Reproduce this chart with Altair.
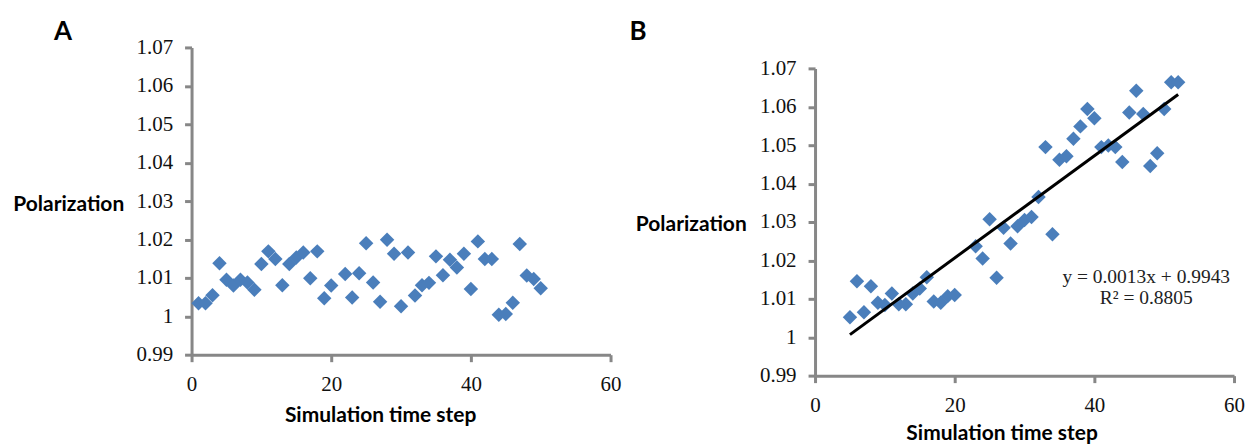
import altair as alt
import pandas as pd

# ---------------- data ----------------
a_step = [1, 2, 3, 4, 5, 6, 7, 8, 9, 10, 11, 12, 13, 14, 15, 16, 17, 18, 19, 20,
          22, 23, 24, 25, 26, 27, 28, 29, 30, 31, 32, 33, 34, 35, 36, 37, 38, 39,
          40, 41, 42, 43, 44, 45, 46, 47, 48, 49, 50]
a_pol = [1.0034, 1.0034, 1.0055, 1.0138, 1.0095, 1.0080, 1.0095, 1.0088, 1.0069, 1.0136,
         1.0169, 1.0149, 1.0081, 1.0136, 1.0153, 1.0166, 1.0099, 1.0169, 1.0047, 1.0080,
         1.0110, 1.0049, 1.0112, 1.0190, 1.0088, 1.0038, 1.0199, 1.0163, 1.0026, 1.0166,
         1.0054, 1.0081, 1.0087, 1.0156, 1.0107, 1.0147, 1.0127, 1.0163, 1.0071, 1.0195,
         1.0149, 1.0149, 1.0004, 1.0006, 1.0035, 1.0188, 1.0106, 1.0097, 1.0073]

b_step = [5, 6, 7, 8, 9, 10, 11, 12, 13, 14, 15, 16, 17, 18, 19, 20,
          23, 24, 25, 26, 27, 28, 29, 30, 31, 32, 33, 34, 35, 36, 37, 38, 39, 40,
          41, 42, 43, 44, 45, 46, 47, 48, 49, 50, 51, 52]
b_pol = [1.0052, 1.0146, 1.0065, 1.0133, 1.0090, 1.0084, 1.0114, 1.0086, 1.0086, 1.0114,
         1.0127, 1.0156, 1.0093, 1.0090, 1.0107, 1.0110,
         1.0237, 1.0205, 1.0307, 1.0155, 1.0285, 1.0244, 1.0289, 1.0305, 1.0313, 1.0365,
         1.0495, 1.0268, 1.0462, 1.0471, 1.0517, 1.0549, 1.0594, 1.0570,
         1.0495, 1.0499, 1.0495, 1.0456, 1.0585, 1.0642, 1.0581, 1.0446, 1.0479, 1.0594,
         1.0664, 1.0664]

x_ticks = [0, 20, 40, 60]
y_ticks = [0.99, 1.00, 1.01, 1.02, 1.03, 1.04, 1.05, 1.06, 1.07]
equation_text = "y = 0.0013x + 0.9943"
r2_text = "R² = 0.8805"
panel_labels = ["A", "B"]
x_title = "Simulation time step"
y_title = "Polarization"

df_a = pd.DataFrame({"step": a_step, "pol": a_pol})
df_b = pd.DataFrame({"step": b_step, "pol": b_pol})

# ---------------- styling ----------------
W, H = 420, 308
B_SHIFT = 21          # panel B's plot sits lower than panel A's
AXIS_GRAY = "#878787"
BLUE = "#4a7ebb"
SERIF = "Liberation Serif"
SANS = "Lato"


def make_axes(title_x_off, title_y_x, title_y_y, x_title_y):
    xa = alt.Axis(values=x_ticks, format="d", grid=False, domainColor=AXIS_GRAY,
                  domainWidth=3, tickColor=AXIS_GRAY, tickWidth=3, tickSize=7,
                  labelFont=SERIF, labelFontSize=21, labelColor="#111",
                  labelPadding=12, labelFlush=False, labelOverlap=False,
                  title=x_title, titleFont=SANS, titleFontWeight="bold",
                  titleFontSize=21, titleColor="#000", titleAnchor="start",
                  titleAlign="center", titleBaseline="middle",
                  titleX=title_x_off, titleY=x_title_y)
    ya = alt.Axis(values=y_ticks, format=".2~f", grid=False, domainColor=AXIS_GRAY,
                  domainWidth=3, tickColor=AXIS_GRAY, tickWidth=3, tickSize=7,
                  labelFont=SERIF, labelFontSize=21, labelColor="#111",
                  labelPadding=12, labelFlush=False, labelOverlap=False,
                  title=y_title, titleFont=SANS, titleFontWeight="bold",
                  titleFontSize=21, titleColor="#000", titleAngle=0,
                  titleAlign="right", titleBaseline="middle",
                  titleX=title_y_x, titleY=title_y_y)
    return xa, ya


def scales(shift, height):
    xs = alt.Scale(domain=[0, 60], nice=False)
    ys = alt.Scale(domain=[0.99, 1.07], nice=False, range=[height, shift])
    return xs, ys


def scatter(df, xa, ya, xs, ys):
    return alt.Chart(df).mark_point(shape="diamond", filled=True, size=210,
                                    opacity=1, color=BLUE).encode(
        x=alt.X("step:Q", scale=xs, axis=xa),
        y=alt.Y("pol:Q", scale=ys, axis=ya),
    )


def label(txt, x, y):
    return alt.Chart(pd.DataFrame({"t": [txt]})).mark_text(
        align="left", baseline="top", font=SANS, fontWeight="bold",
        fontSize=26, color="#000").encode(
        x=alt.value(x), y=alt.value(y), text="t:N")


# ---- panel A ----
xs_a, ys_a = scales(0, H)
xa_a, ya_a = make_axes(189, -68, 157, 61)
panel_a = alt.layer(
    scatter(df_a, xa_a, ya_a, xs_a, ys_a),
    label(panel_labels[0], -138, -28),
).properties(width=W, height=H)

# ---- panel B ----
HB = H + B_SHIFT
xs_b, ys_b = scales(B_SHIFT, HB)
xa_b, ya_b = make_axes(187, -69, 157 + B_SHIFT, 58)
trend = alt.Chart(df_b).transform_regression("step", "pol").mark_line(
    color="black", strokeWidth=3).encode(
    x=alt.X("step:Q", scale=xs_b),
    y=alt.Y("pol:Q", scale=ys_b),
)
eq1 = alt.Chart(pd.DataFrame({"t": [equation_text]})).mark_text(
    align="center", baseline="middle", font=SERIF, fontSize=19.5, color="#222").encode(
    x=alt.value(332), y=alt.value(B_SHIFT + 209), text="t:N")
eq2 = alt.Chart(pd.DataFrame({"t": [r2_text]})).mark_text(
    align="center", baseline="middle", font=SERIF, fontSize=19.5, color="#222").encode(
    x=alt.value(332), y=alt.value(B_SHIFT + 230), text="t:N")

panel_b = alt.layer(
    scatter(df_b, xa_b, ya_b, xs_b, ys_b),
    trend,
    eq1,
    eq2,
    label(panel_labels[1], -186, -28),
).properties(width=W, height=HB)

chart = alt.hconcat(panel_a, panel_b, spacing=8).properties(
    padding={"left": 4, "top": 11, "right": 0, "bottom": 0},
    background="white",
).configure_view(stroke=None)

chart.save("out.html", embed_options={"renderer": "svg", "actions": False})
